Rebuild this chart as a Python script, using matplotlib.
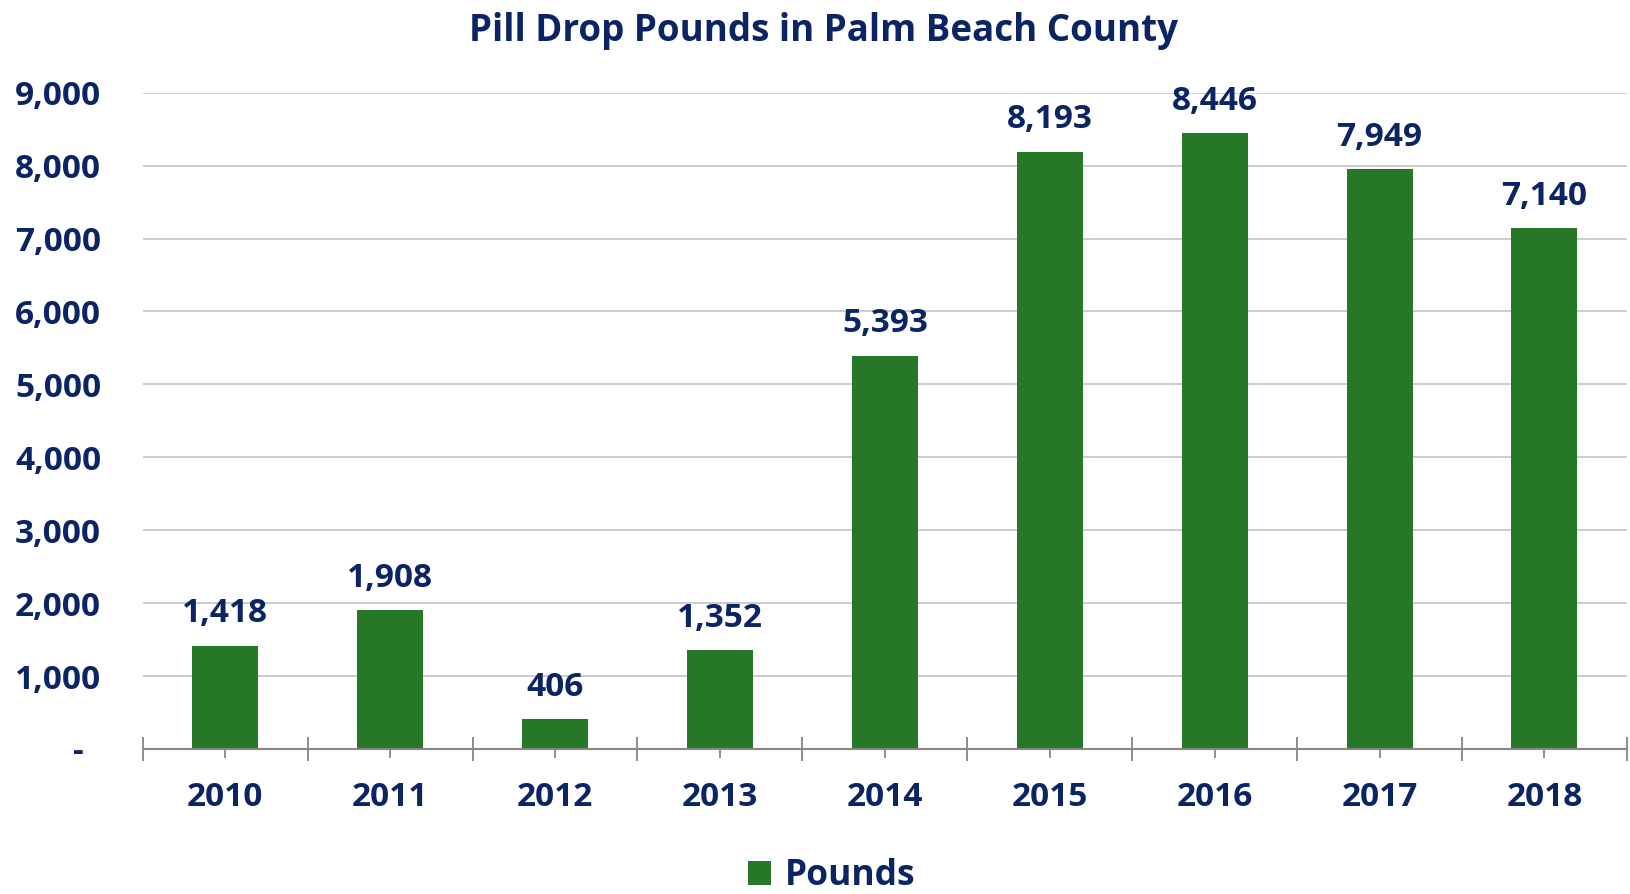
import numpy as np
import matplotlib
matplotlib.use('Agg')
import matplotlib.pyplot as plt
from matplotlib.ticker import FixedLocator, FuncFormatter

# data
years = ['2010', '2011', '2012', '2013', '2014', '2015', '2016', '2017', '2018']
pounds = [1418, 1908, 406, 1352, 5393, 8193, 8446, 7949, 7140]
yticks = [0, 1000, 2000, 3000, 4000, 5000, 6000, 7000, 8000, 9000]

navy = '#0b2463'
green = '#267826'
axgray = '#868686'

plt.rcParams['font.family'] = ['Open Sans', 'DejaVu Sans']
plt.rcParams['font.weight'] = 'bold'

fig = plt.figure(figsize=(16.31, 8.94), dpi=100)
ax = fig.add_axes([0.0875, 0.1622, 0.91, 0.7341])

x = np.arange(len(years))
bars = ax.bar(x, pounds, width=0.4, color=green, label='Pounds', zorder=3)

for xi, v in zip(x, pounds):
    ax.annotate(f'{v:,}', (xi, v), xytext=(0, 11), textcoords='offset points',
                ha='center', va='bottom', fontsize=24, fontweight='bold', color=navy)

ax.set_xlim(-0.5, len(years) - 0.5)
ax.set_ylim(0, 9000)
ax.set_yticks(yticks)
# accounting style: zero shown as a dash
ax.yaxis.set_major_formatter(FuncFormatter(lambda v, p: '-  ' if v == 0 else f'{int(v):,}'))
ax.set_xticks(x)
ax.set_xticklabels(years)
ax.xaxis.set_minor_locator(FixedLocator(np.arange(-0.5, len(years), 1.0)))

ax.grid(axis='y', color='#c8c8c8', linewidth=1.3, zorder=0)
for s in ['top', 'right', 'left']:
    ax.spines[s].set_visible(False)
ax.spines['bottom'].set_color(axgray)
ax.spines['bottom'].set_linewidth(1.5)
ax.spines['bottom'].set_zorder(4)

ax.tick_params(axis='y', length=0, pad=30, labelsize=24, labelcolor=navy)
ax.tick_params(axis='x', which='major', direction='inout', length=12.7, width=1.3,
               color=axgray, pad=17, labelsize=24, labelcolor=navy)
ax.tick_params(axis='x', which='minor', direction='inout', length=16.6, width=1.3,
               color=axgray)
for lab in ax.get_xticklabels() + ax.get_yticklabels():
    lab.set_fontweight('bold')

fig.text(0.505, 0.965, 'Pill Drop Pounds in Palm Beach County', ha='center', va='center',
         fontsize=26.5, fontweight='bold', color=navy)

leg = fig.legend(handles=[bars], labels=['Pounds'], loc='center', bbox_to_anchor=(0.51, 0.02),
                 frameon=False, fontsize=25.5, handlelength=0.65, handleheight=0.65,
                 handletextpad=0.4, borderpad=0.1)
for t in leg.get_texts():
    t.set_color(navy)
    t.set_fontweight('bold')

fig.savefig('out.png', dpi=100)
